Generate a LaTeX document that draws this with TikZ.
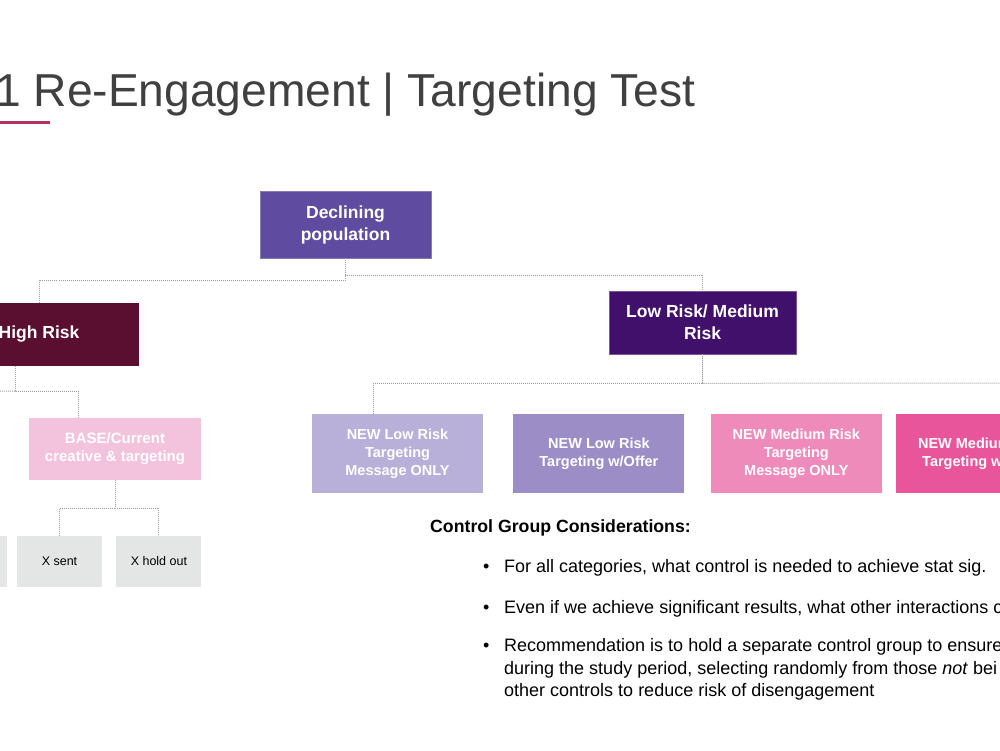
\documentclass[tikz,border=0pt]{standalone}
\usepackage{fontspec}
\setmainfont{Liberation Sans}
\usetikzlibrary{positioning,calc}

\definecolor{titlegrey}{HTML}{404040}
\definecolor{accentred}{HTML}{B3325F}
\definecolor{declpurple}{HTML}{5F4B9F}
\definecolor{highmaroon}{HTML}{5B0F30}
\definecolor{lowmedpurple}{HTML}{40106B}
\definecolor{basepink}{HTML}{F3C2DD}
\definecolor{holdgrey}{HTML}{E4E6E6}
\definecolor{lowmsg}{HTML}{B9B0D9}
\definecolor{lowoffer}{HTML}{9C8DC7}
\definecolor{medmsg}{HTML}{EE8BBB}
\definecolor{medoffer}{HTML}{E8559A}
\definecolor{conngrey}{HTML}{9E9E9E}

\begin{document}
\begin{tikzpicture}[x=1pt,y=-1pt,
  box/.style={rectangle, inner sep=0pt, align=center, text=white,
    font=\fontsize{17.5}{22}\selectfont\bfseries},
  newbox/.style={box, minimum width=171pt, minimum height=79pt,
    font=\fontsize{14.5}{18}\selectfont\bfseries},
  holdbox/.style={rectangle, inner sep=0pt, fill=holdgrey, minimum width=85pt,
    minimum height=51pt, font=\fontsize{12.5}{15}\selectfont},
  conn/.style={draw=conngrey, line width=1pt, densely dotted},
  bodytext/.style={anchor=base west, inner sep=0pt,
    font=\fontsize{18}{22.5}\selectfont}]

  \useasboundingbox (0,0) rectangle (1000,750);
  \clip (0,0) rectangle (1000,750);

  %% title
  \node[anchor=base west, inner sep=0pt, text=titlegrey,
    font=\fontsize{46.2}{55}\selectfont] (title) at (-5,106)
    {1 Re-Engagement | Targeting Test};
  \draw[accentred, line width=3pt] (0,122) -- (50,122);

  %% population and risk groups
  \node[box, fill=declpurple, draw=declpurple!75!white, line width=0.6pt,
    minimum width=171pt, minimum height=67pt] (decl) at (345.5,224.5)
    {Declining\\population};
  \node[box, fill=highmaroon, minimum width=200pt, minimum height=63pt]
    (high) at (39,334.5) {High Risk};
  \node[box, fill=lowmedpurple, draw=lowmedpurple!70!white, line width=0.6pt,
    minimum width=187pt, minimum height=63pt] (lowmed) at (702.5,322.5)
    {Low Risk/ Medium\\Risk};

  %% high risk branch
  \node[box, fill=basepink, minimum width=172pt, minimum height=62pt,
    font=\fontsize{15}{18}\selectfont\bfseries] (base) at (115,449)
    {BASE/Current\\creative \& targeting};
  \node[holdbox] (xsent) at (59.5,561.5) {X sent};
  \node[holdbox, right=14pt of xsent] (xhold) {X hold out};
  \node[holdbox, left=10pt of xsent] (xcut) {};

  %% low / medium risk branch
  \node[newbox, fill=lowmsg] (newlowmsg) at (397.5,453.5)
    {NEW Low Risk\\Targeting\\Message ONLY};
  \node[newbox, fill=lowoffer, right=30pt of newlowmsg] (newlowoff)
    {NEW Low Risk\\Targeting w/Offer};
  \node[newbox, fill=medmsg, right=26pt of newlowoff] (newmedmsg)
    {NEW Medium Risk\\Targeting\\Message ONLY};
  \node[newbox, fill=medoffer, right=14pt of newmedmsg] (newmedoff)
    {NEW Medium Risk\\Targeting w/Offer};

  %% connectors
  \coordinate (hleft) at (-30,391);
  \coordinate (lmright) at (1010,383);
  \draw[conn] (decl.south) -- ++(0,22) -| (high.north);
  \draw[conn] (decl.south) -- ++(0,17) -| (lowmed.north);
  \draw[conn] ([xshift=-24pt]high.south) -- ++(0,25) coordinate (hsplit)
    -| ([xshift=-37pt]base.north);
  \draw[conn] (hsplit) -- (hleft);
  \draw[conn] (base.south) -- ++(0,28) -| (xsent.north);
  \draw[conn] (base.south) -- ++(0,28) -| (xhold.north);
  \draw[conn] (lowmed.south) -- ++(0,29) -| ([xshift=-24.5pt]newlowmsg.north);
  \draw[conn] (lowmed.south) -- ++(0,29) -- (lmright);

  %% control group notes
  \node[bodytext, font=\fontsize{17.7}{22.5}\selectfont\bfseries] (cghead)
    at (430,532) {Control Group Considerations:};
  \node[bodytext] (dot1) at (483,572) {•};
  \node[bodytext] (bul1) at (504,572)
    {For all categories, what control is needed to achieve stat sig.};
  \node[bodytext] (dot2) at (483,613) {•};
  \node[bodytext] (bul2) at (504,613)
    {Even if we achieve significant results, what other interactions c};
  \node[bodytext] (dot3) at (483,651) {•};
  \node[bodytext] (bul3a) at (504,651)
    {Recommendation is to hold a separate control group to ensure};
  \node[bodytext] (bul3b) at (504,674)
    {during the study period, selecting randomly from those \textit{not} bei};
  \node[bodytext] (bul3c) at (504,696)
    {other controls to reduce risk of disengagement};

\end{tikzpicture}
\end{document}
